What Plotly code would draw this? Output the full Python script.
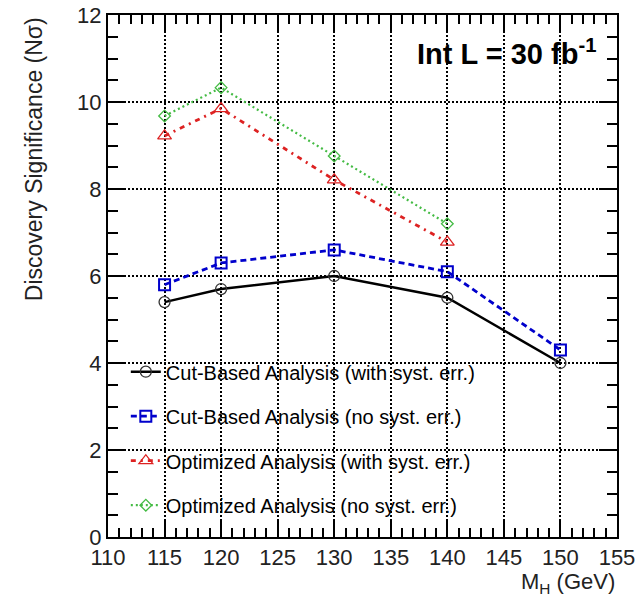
import plotly.graph_objects as go

mass_cut = [115, 120, 130, 140, 150]
cut_syst = [5.4, 5.7, 6.0, 5.5, 4.0]
cut_nosyst = [5.8, 6.3, 6.6, 6.1, 4.3]
mass_opt = [115, 120, 130, 140]
opt_syst = [9.22, 9.85, 8.21, 6.78]
opt_nosyst = [9.68, 10.33, 8.76, 7.2]

names = ["Cut-Based Analysis (with syst. err.)",
         "Cut-Based Analysis (no syst. err.)",
         "Optimized Analysis (with syst. err.)",
         "Optimized Analysis (no syst. err.)"]

FONT = "Liberation Sans, Arial, Helvetica, sans-serif"

fig = go.Figure()
fig.add_trace(go.Scatter(x=mass_cut, y=cut_syst, name=names[0], legendgroup="a",
                         mode="lines+markers",
                         line=dict(color="black", width=2.4, dash="solid"),
                         marker=dict(symbol="circle-open", size=11, color="#333333", line=dict(width=1.3))))
fig.add_trace(go.Scatter(x=mass_cut, y=cut_nosyst, name=names[1], legendgroup="b",
                         mode="lines+markers",
                         line=dict(color="#0000cc", width=2.8, dash="6px,4px"),
                         marker=dict(symbol="square-open", size=11, color="#0000cc", line=dict(width=2))))
fig.add_trace(go.Scatter(x=mass_opt, y=opt_syst, name=names[2], legendgroup="c",
                         mode="lines+markers",
                         line=dict(color="#dd2222", width=2.8, dash="5px,5px,2px,5px"),
                         marker=dict(symbol="triangle-up-open", size=12, color="#dd2222", line=dict(width=1.3))))
fig.add_trace(go.Scatter(x=mass_opt, y=opt_nosyst, name=names[3], legendgroup="d",
                         mode="lines+markers",
                         line=dict(color="#44bb44", width=2.2, dash="2px,3px"),
                         marker=dict(symbol="diamond-open", size=9, color="#44bb44", line=dict(width=1.3))))

axis_common = dict(showline=True, linecolor="black", linewidth=2, mirror="allticks",
                   ticks="inside", tickcolor="black", tickwidth=2,
                   showgrid=True, gridcolor="black", griddash="2px,2px", gridwidth=1.8,
                   zeroline=False, automargin=False,
                   tickfont=dict(family=FONT, size=22, color="#222222"))

fig.update_xaxes(range=[110, 155], dtick=5, tick0=110, ticklen=17,
                 minor=dict(ticks="inside", dtick=1, ticklen=9, tickcolor="black", tickwidth=1.5, showgrid=False),
                 **axis_common)
fig.update_yaxes(range=[0, 12], dtick=2, tick0=0, ticklen=18,
                 minor=dict(ticks="inside", dtick=0.5, ticklen=10, tickcolor="black", tickwidth=1.5, showgrid=False),
                 **axis_common)

fig.update_layout(
    width=636, height=594,
    margin=dict(l=108, r=19, t=15, b=57, autoexpand=False),
    paper_bgcolor="white", plot_bgcolor="white",
    showlegend=True,
    legend=dict(x=0.035, y=0.354, xanchor="left", yanchor="top", itemwidth=30,
                bgcolor="rgba(0,0,0,0)", traceorder="grouped", tracegroupgap=15.5,
                font=dict(family=FONT, size=20, color="black")),
    annotations=[
        dict(text="<b>Int L = 30 fb<sup>-1</sup></b>", xref="paper", yref="paper",
             x=0.963, y=0.93, xanchor="right", yanchor="middle", showarrow=False,
             font=dict(family=FONT, size=29, color="black")),
        dict(text="Discovery Significance (N\u03c3)", xref="paper", yref="paper",
             x=-0.145, y=1.0, xanchor="center", yanchor="top", textangle=-90, showarrow=False,
             font=dict(family=FONT, size=23, color="#222222")),
        dict(text="M<sub>H</sub> (GeV)", xref="paper", yref="paper",
             x=1.0, y=-0.057, xanchor="right", yanchor="top", showarrow=False,
             font=dict(family=FONT, size=22, color="#222222")),
    ],
)

fig.write_html("out.html")
